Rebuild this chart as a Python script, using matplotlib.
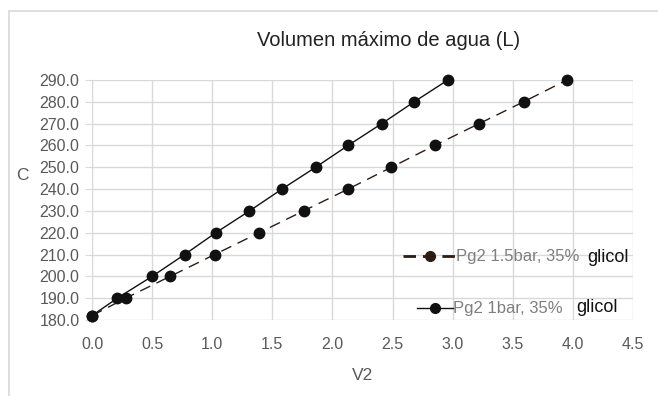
import numpy as np
import matplotlib.pyplot as plt
from matplotlib.lines import Line2D

# Series data
c_vals = [182, 190, 200, 210, 220, 230, 240, 250, 260, 270, 280, 290]
v2_1bar = [0.0, 0.21, 0.50, 0.77, 1.03, 1.31, 1.58, 1.86, 2.13, 2.41, 2.68, 2.96]
v2_15bar = [0.0, 0.28, 0.65, 1.02, 1.39, 1.76, 2.13, 2.49, 2.85, 3.22, 3.59, 3.95]

x_ticks = [0.0, 0.5, 1.0, 1.5, 2.0, 2.5, 3.0, 3.5, 4.0, 4.5]
y_ticks = [180, 190, 200, 210, 220, 230, 240, 250, 260, 270, 280, 290]

label_15 = 'Pg2 1.5bar, 35%'
label_1 = 'Pg2 1bar, 35%'

plt.rcParams['font.family'] = ['Liberation Sans', 'DejaVu Sans']

fig = plt.figure(figsize=(6.58, 3.96), dpi=100)
ax = fig.add_axes([92 / 658, 1 - 320 / 396, (633 - 92) / 658, (320 - 80) / 396])

grid_c = '#d9d9d9'
text_c = '#595959'

ax.plot(v2_15bar, c_vals, color='#2b1d14', lw=1.0, dashes=(8, 5),
        marker='o', ms=7.5, mfc='#111111', mec='#111111', zorder=3, clip_on=False)
ax.plot(v2_1bar, c_vals, color='#111111', lw=1.0,
        marker='o', ms=7.5, mfc='#111111', mec='#111111', zorder=4, clip_on=False)

ax.set_xlim(0, 4.5)
ax.set_ylim(180, 290)
ax.set_xticks(x_ticks)
ax.set_yticks(y_ticks)
ax.set_xticklabels([f'{t:.1f}' for t in x_ticks])
ax.set_yticklabels([f'{t:.1f}' for t in y_ticks])
ax.grid(True, color=grid_c, lw=1.0)
ax.set_axisbelow(True)
for s in ['top', 'right', 'bottom']:
    ax.spines[s].set_visible(False)
ax.spines['left'].set_color(grid_c)
ax.tick_params(axis='y', length=5, color=grid_c, labelcolor=text_c, labelsize=11.5, pad=4)
ax.tick_params(axis='x', length=0, labelcolor=text_c, labelsize=11.5, pad=12)

ax.set_xlabel('V2', color=text_c, fontsize=12.5, labelpad=12)
ax.set_ylabel('C', color=text_c, fontsize=12.5, rotation=0, va='center', ha='center')
ax.yaxis.set_label_coords(-0.128, 0.604)

fig.text(0.59, 0.898, 'Volumen máximo de agua (L)', ha='center', va='center',
         fontsize=14.5, color='#222222')

# legend entries (frameless, two separate rows)
h15 = Line2D([], [], color='#2b1d14', lw=2.0, dashes=(4.5, 2.5), marker='o', ms=7,
             mfc='#2b1d14', mec='#2b1d14')
h1 = Line2D([], [], color='#111111', lw=1.0, marker='o', ms=7,
            mfc='#111111', mec='#111111')
leg1 = ax.legend([h15], [label_15], loc='center left', frameon=False,
                 bbox_to_anchor=(0.575, 0.2625), handlelength=3.2, handletextpad=0.0,
                 fontsize=12, labelcolor='#7f7f7f', borderpad=0, borderaxespad=0)
ax.add_artist(leg1)
ax.legend([h1], [label_1], loc='center left', frameon=False,
          bbox_to_anchor=(0.601, 0.046), handlelength=2.15, handletextpad=0.0,
          fontsize=12, labelcolor='#7f7f7f', borderpad=0, borderaxespad=0)
ax.text(0.915, 0.2625, 'glicol', transform=ax.transAxes, ha='left', va='center',
        fontsize=13, color='#111111')
ax.text(0.895, 0.05, 'glicol', transform=ax.transAxes, ha='left', va='center',
        fontsize=13, color='#111111')

# chart border (top and left visible)
fig.add_artist(Line2D([8.5 / 658, 1], [1 - 10.5 / 396] * 2, color='#d9d9d9', lw=1.2))
fig.add_artist(Line2D([8.5 / 658] * 2, [0, 1 - 10.5 / 396], color='#d9d9d9', lw=1.2))

fig.savefig('out.png', dpi=100)
